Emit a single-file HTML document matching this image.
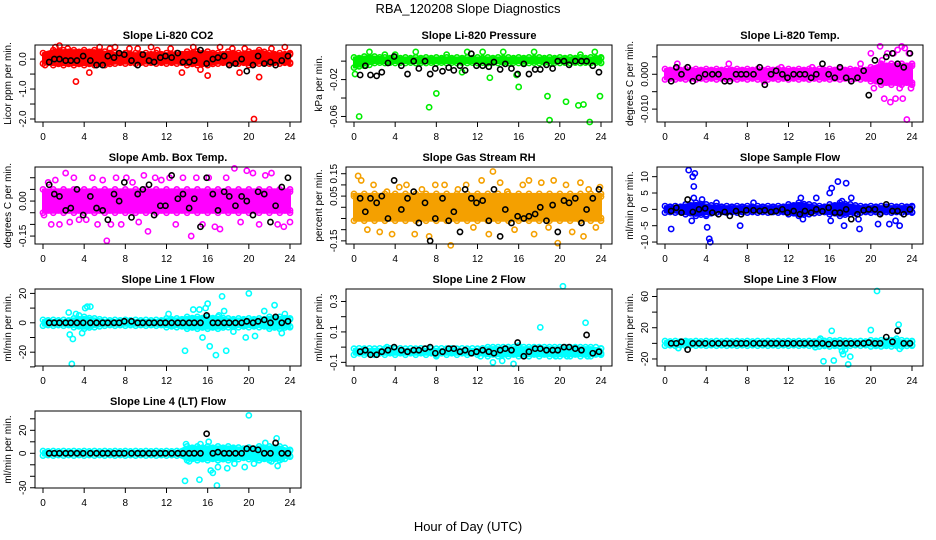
<!DOCTYPE html>
<html><head><meta charset="utf-8"><style>
html,body{margin:0;padding:0;background:#fff;}
svg{display:block;font-family:"Liberation Sans",sans-serif;}
</style></head><body>
<svg id="chart" width="936" height="540" viewBox="0 0 936 540" xmlns="http://www.w3.org/2000/svg">
<rect width="936" height="540" fill="#fff"/>
<text x="468" y="13" text-anchor="middle" font-size="13">RBA_120208  Slope Diagnostics</text>
<text x="468" y="531" text-anchor="middle" font-size="13">Hour of Day (UTC)</text>
</svg>
<script>
const xTicks=[0,4,8,12,16,20,24];
const blackHours=[0.6,1.1,1.6,2.2,2.7,3.3,3.9,4.6,5.2,5.8,6.3,6.9,7.4,7.9,8.6,9.2,9.7,10.3,10.8,11.4,11.9,12.5,13.1,13.6,14.2,14.7,15.3,15.9,16.5,17.0,17.6,18.1,18.7,19.3,19.8,20.4,20.9,21.5,22.1,22.6,23.2,23.8];

const co2Hi=[0.2,0.3,0.3,0.3,0.3,0.3,0.25,0.2,0.2,0.2,0.2,0.2,0.2,0.2,0.25,0.25,0.25,0.2,0.25,0.2,0.25,0.3,0.2,0.2,0.2];
const co2Lo=[-0.15,-0.2,-0.2,-0.2,-0.2,-0.2,-0.2,-0.15,-0.15,-0.15,-0.15,-0.15,-0.15,-0.15,-0.2,-0.2,-0.2,-0.15,-0.15,-0.15,-0.2,-0.15,-0.15,-0.15,-0.15];
const co2X=[1.2,1.6,2.4,3.2,4.5,5.5,6.5,7.0,9.2,10.5,12.4,13.5,14.6,15.3,16.0,17.2,18.4,19.1,19.6,20.5,21.0,22.2,23.5,0.2,8.4,11.1];
const co2Y=[0.4,0.45,0.35,-0.75,-0.45,0.4,0.35,0.4,0.35,0.4,0.35,-0.45,0.4,-0.35,-0.55,0.4,0.35,-0.45,0.35,-2.0,-0.6,0.35,0.4,-0.2,0.35,0.3];
const co2Black=[-0.1,0,0,-0.05,-0.05,-0.05,0.1,-0.05,-0.2,-0.2,0.1,0.05,0.2,0.15,-0.05,-0.2,0.15,-0.05,-0.1,0.05,0.1,0.05,0.2,-0.1,-0.1,-0.05,0.3,-0.15,0,0.05,0.1,-0.2,-0.15,0,-0.4,-0.2,0.1,-0.15,-0.1,-0.2,-0.05,0.1];
const co2Ticks=[0,-0.5,-1,-1.5,-2];
const co2Labels=['0.0','','-1.0','','-2.0'];

const presHi=[0.004,0.005,0.005,0.004,0.004,0.004,0.004,0.004,0.004,0.004,0.004,0.004,0.004,0.004,0.004,0.004,0.004,0.004,0.004,0.004,0.004,0.004,0.004,0.004,0.004];
const presLo=[-0.007,-0.005,-0.002,-0.002,-0.002,-0.002,-0.002,-0.002,-0.002,-0.002,-0.002,-0.002,-0.002,-0.002,-0.002,-0.002,-0.002,-0.002,-0.002,-0.002,-0.002,-0.002,-0.002,-0.002,-0.002];
const presX=[0.5,1.5,7.3,8.0,13.2,16.0,18.8,19.0,20.6,21.8,22.3,22.9,23.9,0.1,3.0,6.0,9.0,11.0,14.5,17.5,22.0,23.4,4.0,12.5,15.8,10.5];
const presY=[-0.06,0.01,-0.05,-0.035,-0.018,-0.028,-0.038,-0.064,-0.044,-0.048,-0.047,-0.066,-0.038,-0.014,0.007,0.01,0.007,0.01,0.01,0.01,0.007,0.01,0.007,0.01,-0.015,-0.012];
const presBlack=[-0.015,-0.005,-0.015,-0.016,-0.012,-0.002,0.005,-0.005,-0.014,0,-0.008,0,-0.014,-0.008,-0.011,-0.007,-0.010,-0.005,-0.010,0.008,-0.005,-0.005,-0.006,-0.001,-0.009,-0.003,-0.008,-0.014,-0.003,-0.014,-0.009,-0.009,-0.004,-0.008,0,0,-0.004,0,0,0,-0.005,-0.012];
const presTicks=[0,-0.02,-0.04,-0.06];
const presLabels=['','-0.02','','-0.06'];

const tempHi=[0.0015,0.0015,0.0015,0.0015,0.0015,0.0015,0.0015,0.0015,0.0015,0.0015,0.0015,0.0015,0.0015,0.0015,0.0015,0.0015,0.0015,0.0015,0.0015,0.0015,0.002,0.003,0.003,0.003,0.003];
const tempLo=[-0.0015,-0.0015,-0.0015,-0.0015,-0.0015,-0.0015,-0.0015,-0.0015,-0.0015,-0.0015,-0.0015,-0.0015,-0.0015,-0.0015,-0.0015,-0.0015,-0.0015,-0.0015,-0.0015,-0.0015,-0.002,-0.003,-0.003,-0.003,-0.003];
const tempX=[1.2,6.2,9.6,11.3,14.3,19.0,20.0,20.3,20.9,21.3,21.6,21.9,22.2,22.4,22.6,22.8,23.0,23.1,23.3,23.5,23.7,23.9,21.1,20.5];
const tempY=[0.003,0.003,-0.002,0.002,0.002,0.003,0.006,-0.004,0.008,-0.007,0.006,-0.008,0.006,-0.007,0.007,-0.004,0.008,-0.007,0.0075,-0.013,0.006,-0.004,0.004,-0.002];
const tempBlack=[-0.002,0.002,0,0.002,-0.002,-0.001,0,0,0,-0.002,-0.002,0,0,0,0,0.002,-0.003,0,0.001,0,-0.001,0,0,0,-0.001,0,0.003,0,-0.001,0.002,-0.001,-0.002,-0.001,0.001,-0.006,0.004,-0.002,0.005,0.006,0.003,0.002,0.006];
const tempTicks=[0.005,0,-0.005,-0.01];
const tempLabels=['','0.000','','-0.010'];

const ambHi=[0.05,0.05,0.05,0.05,0.05,0.05,0.05,0.05,0.05,0.05,0.05,0.05,0.05,0.05,0.05,0.05,0.05,0.05,0.05,0.05,0.05,0.05,0.05,0.05,0.05];
const ambLo=[-0.05,-0.05,-0.05,-0.05,-0.05,-0.05,-0.05,-0.05,-0.05,-0.05,-0.05,-0.05,-0.05,-0.05,-0.05,-0.05,-0.05,-0.05,-0.05,-0.05,-0.05,-0.05,-0.05,-0.05,-0.05];
const ambX=[0.1,0.5,0.8,1.2,1.6,2.2,2.6,3.0,3.5,4.2,4.8,5.3,5.8,6.2,6.6,7.1,7.6,8.1,8.7,9.3,9.8,10.2,10.9,11.5,12.3,12.9,13.6,14.4,14.9,15.5,16.1,16.7,17.2,17.8,18.6,19.2,19.8,20.4,21.0,21.6,22.2,22.8,23.4,24.0];
const ambY=[-0.06,0.08,-0.1,0.09,-0.1,0.12,-0.09,0.1,-0.08,-0.08,0.1,-0.1,0.09,-0.17,-0.1,0.1,-0.1,0.1,0.08,-0.09,0.11,-0.13,0.1,0.09,0.1,-0.1,0.1,-0.15,0.1,-0.1,0.1,-0.11,-0.12,0.1,0.14,-0.09,0.13,0.12,-0.1,0.11,0.12,-0.1,-0.11,-0.09];
const ambBlack=[0.07,0.03,0.02,-0.04,-0.03,0.05,-0.06,0.02,-0.03,-0.04,-0.08,0.03,0,0.08,-0.07,0.03,0.05,0.07,-0.06,-0.02,-0.02,0.11,0.01,0.03,-0.03,0.01,-0.11,0.1,0.03,-0.04,0.04,0.02,-0.02,0.02,0,-0.06,0.04,0.03,-0.09,-0.02,0.06,0.1];
const ambTicks=[0.1,0.05,0,-0.05,-0.1,-0.15];
const ambLabels=['','','0.00','','','-0.15'];

const rhHi=[0.06,0.06,0.06,0.06,0.06,0.06,0.06,0.06,0.06,0.06,0.06,0.06,0.06,0.06,0.06,0.06,0.06,0.06,0.06,0.06,0.06,0.06,0.06,0.06,0.06];
const rhLo=[-0.06,-0.06,-0.06,-0.06,-0.06,-0.06,-0.06,-0.06,-0.06,-0.06,-0.06,-0.06,-0.06,-0.06,-0.06,-0.06,-0.06,-0.06,-0.06,-0.06,-0.06,-0.06,-0.06,-0.06,-0.06];
const rhX=[0,0.4,0.7,1.3,1.9,2.5,3.2,3.7,4.4,5.1,5.9,6.6,7.3,7.9,8.8,9.4,10.1,10.9,11.6,12.4,13.1,13.5,14.2,14.9,15.6,16.4,17.0,17.5,18.2,18.9,19.4,19.8,20.6,21.2,22.0,22.3,22.8,23.5,23.9];
const rhY=[0.05,0.14,0.12,-0.1,0.1,-0.11,0.07,-0.12,0.09,0.1,-0.12,0.08,-0.13,0.1,0.1,-0.17,0.08,0.1,-0.09,0.12,-0.12,0.16,0.11,0.07,-0.1,0.1,0.12,-0.12,0.11,-0.09,0.12,-0.16,0.1,-0.11,0.11,-0.13,0.08,-0.09,0.09];
const rhBlack=[0.04,-0.02,0.04,0.02,0.05,-0.05,0.12,-0.01,0.04,0.07,-0.07,0.02,-0.15,-0.05,0.04,-0.06,-0.02,-0.11,0.08,0.04,0.02,0.03,-0.06,0.08,-0.13,-0.01,-0.07,-0.04,-0.05,-0.04,-0.03,0,-0.06,0.01,-0.11,0.03,0.02,0.04,-0.07,-0.01,0.04,0.08];
const rhTicks=[0.15,0.1,0.05,0,-0.05,-0.1,-0.15];
const rhLabels=['0.15','','0.05','','','','-0.15'];

const sfHi=[1,1,1.5,2,1.5,1,1,1,1,1,1,1,1.5,2,1.5,1,1.5,2,1.5,1,1,1,1,1,1];
const sfLo=[-1,-1,-1.5,-2,-1.5,-1,-1,-1,-1,-1,-1,-1,-1.5,-2,-1.5,-1,-1.5,-2,-1.5,-1,-1,-1,-1,-1,-1];
const sfX=[0.6,2.3,2.6,2.7,2.8,2.9,2.8,3.6,4.0,4.1,4.3,4.4,5.0,7.3,8.6,13.2,13.4,14.7,16.0,16.1,16.2,16.8,17.2,17.6,17.4,18.1,18.8,18.9,20.7,21.8,22.4,22.8];
const sfY=[-6,12,-3.5,10,7,11,3.5,3,-2,-5.5,-9,-10,2,-5,2,3.5,-3,3.5,5,-3.5,6.5,8.5,2.5,8,-5,3.5,-3,-6,-4.5,-4.5,-3.5,-5];
const sfBlack=[-0.5,0.5,-1,3,-0.8,0,0.3,-1,-1.5,-0.8,-2,-0.5,-1.5,-0.3,-0.3,-0.5,-0.3,-0.8,-0.5,0,-1,-0.5,-1.5,-0.5,-1,0,-0.6,0.5,-1,-1,0,-3,-1.5,-0.3,0,0,-1.5,1.5,-0.5,-0.5,-1.5,0];
const sfTicks=[10,5,0,-5,-10];
const sfLabels=['10','5','0','-5','-10'];

const l1Hi=[2,2,2,3,4,3,2,2,2,2,2,2,3,3,4,4,4,4,3,3,3,3,4,4,3];
const l1Lo=[-2,-2,-2,-3,-4,-3,-2,-2,-2,-2,-2,-2,-3,-3,-4,-4,-4,-4,-3,-3,-3,-3,-4,-4,-3];
const l1X=[2.5,2.6,2.9,2.8,3.2,3.5,4.1,4.3,4.6,3.8,12.2,13.8,14.6,15.2,15.5,15.8,16.0,16.2,16.8,17.1,17.4,17.6,17.8,19.7,20.0,20.6,21.5,22.5,23.2,23.5,18.5];
const l1Y=[7,-8,-11,-28,6,5,10,11,11,-7,6,-19,9,9,-10,10,13,-16,-22,5,18,8,-19,-10,20,-9,8,12,-7,6,-6];
const l1Black=[0,0,0,0,0,0,0,0,0,0,0,0,0,1,1,0,0,0,0,0,0,0,0,0,0,0,0,5,0,0,0,0,0,0,1,0,1,2,0,4,0,1];
const l1Ticks=[20,10,0,-10,-20,-30];
const l1Labels=['20','','0','','-20',''];

const l2Hi=[-0.01,-0.01,-0.01,-0.01,-0.01,-0.01,-0.01,-0.01,-0.01,-0.01,-0.01,-0.01,-0.01,0,0,0,0,0,0,0,0,0,0,0,-0.01];
const l2Lo=[-0.05,-0.05,-0.05,-0.05,-0.05,-0.05,-0.05,-0.05,-0.05,-0.05,-0.05,-0.05,-0.05,-0.06,-0.06,-0.06,-0.06,-0.06,-0.06,-0.06,-0.06,-0.06,-0.06,-0.06,-0.05];
const l2X=[13.5,14.4,15.5,18.1,19.6,20.3,20.7,22.5,22.7,15.0,16.0,3.2,8.0,12.3,21.4];
const l2Y=[-0.1,-0.09,-0.11,0.13,-0.06,0.4,-0.06,0.16,-0.06,0.0,0.01,0.0,-0.06,-0.06,-0.01];
const l2Black=[-0.03,-0.02,-0.05,-0.05,-0.03,-0.02,0,-0.02,-0.03,-0.02,-0.02,-0.01,0,-0.04,-0.03,-0.01,-0.01,-0.03,-0.02,-0.04,-0.03,-0.02,-0.03,-0.04,-0.02,-0.01,-0.02,0.03,-0.06,-0.03,-0.01,-0.01,-0.02,-0.02,-0.02,0,0,-0.01,-0.02,0.08,-0.04,-0.03];
const l2Ticks=[0.3,0.2,0.1,0,-0.1];
const l2Labels=['0.3','','0.1','','-0.1'];

const l3Hi=[3,3,3,3,3,3,3,3,3,3,3,3,3,3,3,4,4,4,3,3,4,4,4,4,3];
const l3Lo=[-3,-3,-3,-3,-3,-3,-3,-3,-3,-3,-3,-3,-3,-3,-3,-4,-4,-4,-3,-3,-4,-4,-4,-4,-3];
const l3X=[1.0,1.3,2.2,15.1,15.4,15.4,16.2,16.4,17.2,17.3,17.5,17.8,18.0,20.0,20.6,21.6,22.3,22.5,22.7,22.8,14.6];
const l3Y=[-3,-6,2,6,-2,-23,16,-22,-10,-14,-8,-27,-17,17,67,3,4,6,24,-7,-5];
const l3Black=[0,0,2,-8,0,0,0,0,0,0,0,0,0,0,0,0,0,0,0,0,0,0,0,0,0,0,0,-1,0,0,0,0,0,0,1,0,0,8,2,16,0,0];
const l3Ticks=[60,40,20,0,-20];
const l3Labels=['60','','20','','-20'];

const l4Hi=[2,2,2,2,2,2,2,2,2,2,2,2,2,2,6,6,6,6,6,5,5,6,6,6,3];
const l4Lo=[-2,-2,-2,-2,-2,-2,-2,-2,-2,-2,-2,-2,-2,-2,-6,-6,-6,-6,-6,-5,-5,-6,-6,-6,-3];
const l4X=[13.8,13.9,14.2,15.2,15.3,15.5,16.1,16.3,16.5,16.9,17.0,17.5,17.9,18.6,19.6,20.0,20.5,21.0,21.6,22.2,22.7,22.8,23.2];
const l4Y=[-24,8,-7,-23,8,-5,10,-15,-17,-28,-12,-5,-13,-9,-12,33,-9,-6,9,-7,13,-11,-5];
const l4Black=[0,0,0,0,0,0,0,0,0,0,0,0,0,0,0,0,0,0,0,0,0,0,0,0,0,0,0,17,0,1,0,0,0,0,4,4,3,0,0,9,0,0];
const l4Ticks=[30,20,10,0,-10,-20,-30];
const l4Labels=['','20','','0','','','-30'];

const NS='http://www.w3.org/2000/svg';
const svg=document.getElementById('chart');
const colLeft=[35,346,657], rowTop=[45,167,289,411], PW=266, PH=77;
const panels=[
 {id:'co2',title:'Slope Li-820 CO2',ylab:'Licor ppm per min.',c:0,r:0,ymin:-2.1,ymax:0.47,color:'#ff0000',hi:co2Hi,lo:co2Lo,px:co2X,py:co2Y,bk:co2Black,tk:co2Ticks,tl:co2Labels},
 {id:'pressure',title:'Slope Li-820 Pressure',ylab:'kPa per min.',c:1,r:0,ymin:-0.066,ymax:0.0175,color:'#00ee00',hi:presHi,lo:presLo,px:presX,py:presY,bk:presBlack,tk:presTicks,tl:presLabels},
 {id:'li820-temp',title:'Slope Li-820 Temp.',ylab:'degrees C per min.',c:2,r:0,ymin:-0.0137,ymax:0.0084,color:'#ff00ff',hi:tempHi,lo:tempLo,px:tempX,py:tempY,bk:tempBlack,tk:tempTicks,tl:tempLabels},
 {id:'amb-box-temp',title:'Slope Amb. Box Temp.',ylab:'degrees C per min.',c:0,r:1,ymin:-0.184,ymax:0.146,color:'#ff00ff',hi:ambHi,lo:ambLo,px:ambX,py:ambY,bk:ambBlack,tk:ambTicks,tl:ambLabels},
 {id:'gas-stream-rh',title:'Slope Gas Stream RH',ylab:'percent per min.',c:1,r:1,ymin:-0.164,ymax:0.18,color:'#f4a000',hi:rhHi,lo:rhLo,px:rhX,py:rhY,bk:rhBlack,tk:rhTicks,tl:rhLabels},
 {id:'sample-flow',title:'Slope Sample Flow',ylab:'ml/min per min.',c:2,r:1,ymin:-10.6,ymax:12.96,color:'#0000ff',hi:sfHi,lo:sfLo,px:sfX,py:sfY,bk:sfBlack,tk:sfTicks,tl:sfLabels},
 {id:'line1-flow',title:'Slope Line 1 Flow',ylab:'ml/min per min.',c:0,r:2,ymin:-29.4,ymax:23,color:'#00ffff',hi:l1Hi,lo:l1Lo,px:l1X,py:l1Y,bk:l1Black,tk:l1Ticks,tl:l1Labels},
 {id:'line2-flow',title:'Slope Line 2 Flow',ylab:'ml/min per min.',c:1,r:2,ymin:-0.124,ymax:0.382,color:'#00ffff',hi:l2Hi,lo:l2Lo,px:l2X,py:l2Y,bk:l2Black,tk:l2Ticks,tl:l2Labels},
 {id:'line3-flow',title:'Slope Line 3 Flow',ylab:'ml/min per min.',c:2,r:2,ymin:-29,ymax:69.6,color:'#00ffff',hi:l3Hi,lo:l3Lo,px:l3X,py:l3Y,bk:l3Black,tk:l3Ticks,tl:l3Labels},
 {id:'line4-flow',title:'Slope Line 4 (LT) Flow',ylab:'ml/min per min.',c:0,r:3,ymin:-30.2,ymax:36.8,color:'#00ffff',hi:l4Hi,lo:l4Lo,px:l4X,py:l4Y,bk:l4Black,tk:l4Ticks,tl:l4Labels}
];
function mk(tag,attrs,parent){const e=document.createElementNS(NS,tag);for(const k in attrs)e.setAttribute(k,attrs[k]);(parent||svg).appendChild(e);return e;}
panels.forEach(p=>{
 const L=colLeft[p.c],T=rowTop[p.r];
 const xs=h=>L+8+h*247/24;
 const ys=v=>T+PH-(v-p.ymin)/(p.ymax-p.ymin)*PH;
 const g=mk('g',{});
 
 
 const t=mk('text',{x:L+PW/2,y:T-6,'text-anchor':'middle','font-size':'11','font-weight':'bold'},g);
 t.textContent=p.title;
 
 
 const yl=mk('text',{x:0,y:0,transform:`translate(${L-24},${T+PH/2}) rotate(-90)`,'text-anchor':'middle','font-size':'10'},g);
 yl.textContent=p.ylab;
 
 
 let d='';
 p.hi.forEach((v,i)=>{d+=(i?'L':'M')+xs(i).toFixed(1)+' '+ys(v).toFixed(1);});
 for(let i=p.lo.length-1;i>=0;i--)d+='L'+xs(i).toFixed(1)+' '+ys(p.lo[i]).toFixed(1);
 const band=mk('path',{d:d+'Z',fill:p.color,stroke:p.color,'stroke-width':'2','stroke-linejoin':'round'},g);
 
 
 p.hi.forEach((v,i)=>{
  [[i,v],[i+0.5<24?i+0.5:i,v*0.8],[i,p.lo[i]],[i+0.5<24?i+0.5:i,p.lo[i]*0.8]].forEach(q=>{
   const c=mk('circle',{cx:xs(q[0]),cy:ys(q[1]),r:2.6,fill:'none',stroke:p.color,'stroke-width':'1.6'},g);
   
   
  });
 });
 p.px.forEach((h,i)=>{
  const c=mk('circle',{cx:xs(h),cy:ys(p.py[i]),r:2.6,fill:'none',stroke:p.color,'stroke-width':'1.6'},g);
  
  
 });
 blackHours.forEach((h,i)=>{
  const c=mk('circle',{cx:xs(h),cy:ys(p.bk[i]),r:2.6,fill:'none',stroke:'#000','stroke-width':'1.6'},g);
  
  
 });
 const box=mk('rect',{x:L,y:T,width:PW,height:PH,fill:'none',stroke:'#000','stroke-width':'1'},g);
 
 
 mk('line',{x1:xs(0),x2:xs(24),y1:T+PH,y2:T+PH,stroke:'#000'},g);
 xTicks.forEach(h=>{
  mk('line',{x1:xs(h),x2:xs(h),y1:T+PH,y2:T+PH+5,stroke:'#000'},g);
  const tx=mk('text',{x:xs(h),y:T+PH+18,'text-anchor':'middle','font-size':'10'},g);
  tx.textContent=h;
  
  
 });
 p.tk.forEach((v,i)=>{
  const y=ys(v);
  mk('line',{x1:L-5,x2:L,y1:y,y2:y,stroke:'#000'},g);
  if(p.tl[i]){
   const ty=mk('text',{x:0,y:0,transform:`translate(${L-9},${y}) rotate(-90)`,'text-anchor':'middle','font-size':'10'},g);
   ty.textContent=p.tl[i];
   
   
  }
 });
 mk('line',{x1:L,x2:L,y1:ys(p.tk[0]),y2:ys(p.tk[p.tk.length-1]),stroke:'#000'},g);
});
</script>
</body></html>
